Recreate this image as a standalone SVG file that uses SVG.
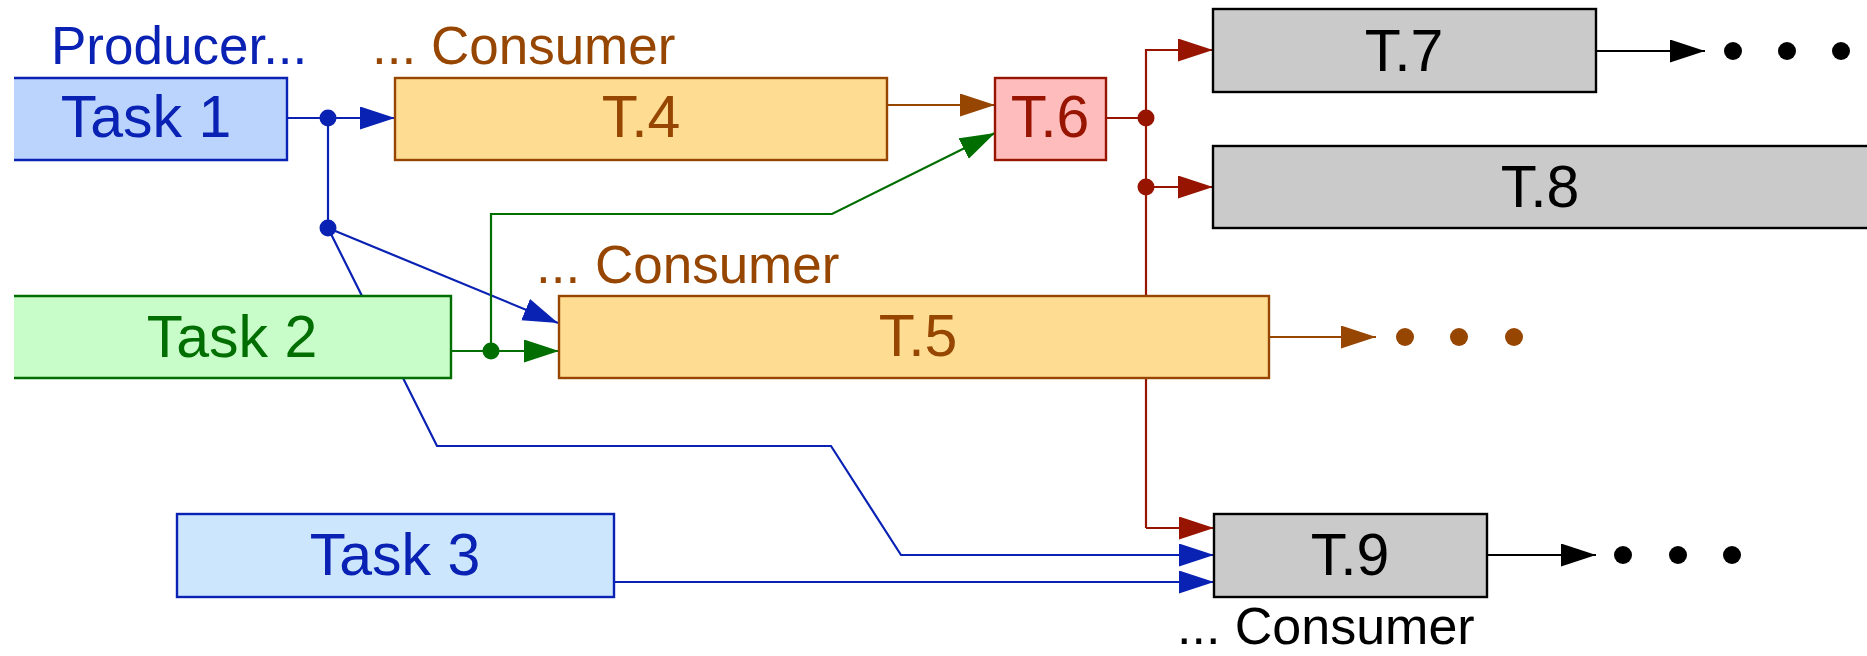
<svg xmlns="http://www.w3.org/2000/svg" width="1867" height="656" viewBox="0 0 1867 656">
<style>
text{font-family:"Liberation Sans",Arial,sans-serif}
.t{font-size:59px;text-anchor:middle}
.lbl{font-size:53px}
.c{fill:none;stroke-width:2.2}
.b{stroke:#0a22b4}.g{stroke:#006e00}.o{stroke:#964600}.r{stroke:#961400}.k{stroke:#000}
.bx{stroke-width:2.4}
</style>
<defs>
<marker id="mb" markerUnits="userSpaceOnUse" markerWidth="36" markerHeight="24" refX="35" refY="11.5" orient="auto"><path d="M0,0 L35,11.5 L0,23 Z" fill="#0a22b4"/></marker>
<marker id="mg" markerUnits="userSpaceOnUse" markerWidth="36" markerHeight="24" refX="35" refY="11.5" orient="auto"><path d="M0,0 L35,11.5 L0,23 Z" fill="#006e00"/></marker>
<marker id="mo" markerUnits="userSpaceOnUse" markerWidth="36" markerHeight="24" refX="35" refY="11.5" orient="auto"><path d="M0,0 L35,11.5 L0,23 Z" fill="#964600"/></marker>
<marker id="mr" markerUnits="userSpaceOnUse" markerWidth="36" markerHeight="24" refX="35" refY="11.5" orient="auto"><path d="M0,0 L35,11.5 L0,23 Z" fill="#961400"/></marker>
<marker id="mk" markerUnits="userSpaceOnUse" markerWidth="36" markerHeight="24" refX="35" refY="11.5" orient="auto"><path d="M0,0 L35,11.5 L0,23 Z" fill="#000"/></marker>
</defs>
<rect width="1867" height="656" fill="#fff"/>
<g id="connectors">
<path class="c b" d="M287,118 H395" marker-end="url(#mb)"/>
<path class="c b" d="M328,118 V228"/>
<path class="c b" d="M328,228 L558,323" marker-end="url(#mb)"/>
<path class="c b" d="M328,228 L437,446 H831 L901,555 H1214" marker-end="url(#mb)"/>
<path class="c b" d="M614,582 H1214" marker-end="url(#mb)"/>
<circle cx="328" cy="118" r="8.5" fill="#0a22b4"/>
<circle cx="328" cy="228" r="8.5" fill="#0a22b4"/>
<path class="c g" d="M451,351 H559" marker-end="url(#mg)"/>
<path class="c g" d="M491,351 V214 H832 L995,133" marker-end="url(#mg)"/>
<circle cx="491" cy="351" r="8.5" fill="#006e00"/>
<path class="c o" d="M887,105 H995" marker-end="url(#mo)"/>
<path class="c o" d="M1269,337 H1376" marker-end="url(#mo)"/>
<g fill="#964600"><circle cx="1405" cy="337" r="9"/><circle cx="1459" cy="337" r="9"/><circle cx="1514" cy="337" r="9"/></g>
<path class="c r" d="M1106,118 H1146"/>
<path class="c r" d="M1146,528 V50 H1213" marker-end="url(#mr)"/>
<path class="c r" d="M1146,187 H1213" marker-end="url(#mr)"/>
<path class="c r" d="M1146,528 H1214" marker-end="url(#mr)"/>
<circle cx="1146" cy="118" r="8.5" fill="#961400"/>
<circle cx="1146" cy="187" r="8.5" fill="#961400"/>
<path class="c k" d="M1596,51 H1705" marker-end="url(#mk)"/>
<g fill="#000"><circle cx="1733" cy="51" r="9"/><circle cx="1787" cy="51" r="9"/><circle cx="1841" cy="51" r="9"/></g>
<path class="c k" d="M1487,555 H1596" marker-end="url(#mk)"/>
<g fill="#000"><circle cx="1623" cy="555" r="9"/><circle cx="1678" cy="555" r="9"/><circle cx="1732" cy="555" r="9"/></g>
</g>
<g id="task1">
<rect x="14" y="78" width="273" height="82" fill="#bbd4fd"/>
<path d="M14,78 H287 V160 H14" fill="none" stroke="#0a22b4" class="bx"/>
<text class="t" x="146" y="137" fill="#0a22b4">Task 1</text>
</g>
<g id="task2">
<rect x="14" y="296" width="437" height="82" fill="#c8fcc8"/>
<path d="M14,296 H451 V378 H14" fill="none" stroke="#006e00" class="bx"/>
<text class="t" x="232" y="357" fill="#006e00">Task 2</text>
</g>
<g id="task3">
<rect x="177" y="514" width="437" height="83" fill="#cce6fe" stroke="#0a22b4" class="bx"/>
<text class="t" x="395" y="575" fill="#0a22b4">Task 3</text>
</g>
<g id="t4">
<rect x="395" y="78" width="492" height="82" fill="#fedc91" stroke="#964600" class="bx"/>
<text class="t" x="641" y="137" fill="#964600">T.4</text>
</g>
<g id="t5">
<rect x="559" y="296" width="710" height="82" fill="#fedc91" stroke="#964600" class="bx"/>
<text class="t" x="918" y="356" fill="#964600">T.5</text>
</g>
<g id="t6">
<rect x="995" y="78" width="111" height="82" fill="#ffbcbc" stroke="#961400" class="bx"/>
<text class="t" x="1050" y="137" fill="#961400">T.6</text>
</g>
<g id="t7">
<rect x="1213" y="9" width="383" height="83" fill="#cacaca" stroke="#000" class="bx"/>
<text class="t" x="1404" y="71" fill="#000">T.7</text>
</g>
<g id="t8">
<rect x="1213" y="146" width="680" height="82" fill="#cacaca" stroke="#000" class="bx"/>
<text class="t" x="1540" y="207" fill="#000">T.8</text>
</g>
<g id="t9">
<rect x="1214" y="514" width="273" height="83" fill="#cacaca" stroke="#000" class="bx"/>
<text class="t" x="1350" y="575" fill="#000">T.9</text>
</g>
<g id="labels">
<text class="lbl" x="51" y="64" fill="#0a22b4">Producer...</text>
<text class="lbl" x="372" y="64" fill="#964600">... Consumer</text>
<text class="lbl" x="536" y="283" fill="#964600">... Consumer</text>
<text x="1177" y="644" fill="#000" style="font-size:52px">... Consumer</text>
</g>
</svg>
